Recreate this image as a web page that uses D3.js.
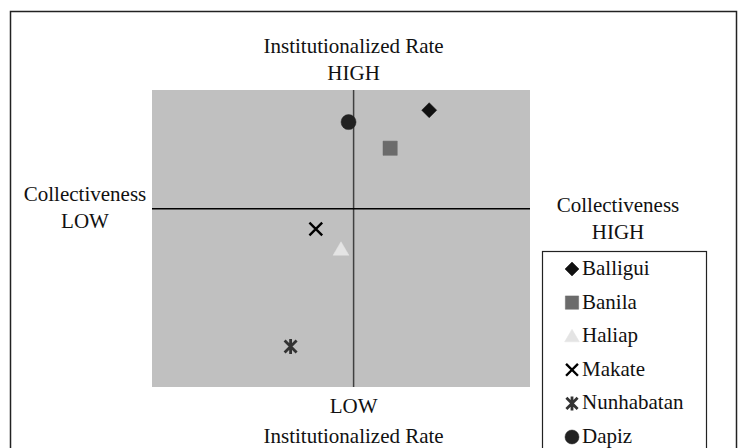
<!DOCTYPE html>
<html>
<head>
<meta charset="utf-8">
<script src="https://cdn.jsdelivr.net/npm/d3@7"></script>
<style>
  html, body { margin: 0; padding: 0; background: #fff; }
  svg { display: block; }
  text { font-family: "Liberation Serif", "Times New Roman", serif; fill: #111; }
</style>
</head>
<body>
<svg id="chart" width="738" height="448"></svg>
<script>
// ---- data ----
const villages = ["Balligui", "Banila", "Haliap", "Makate", "Nunhabatan", "Dapiz"];
const collectiveness = [0.60, 0.29, -0.10, -0.30, -0.50, -0.04];      // x
const institutionalized = [0.83, 0.51, -0.34, -0.17, -1.16, 0.73];   // y
const markerShapes = ["diamond", "square", "triangle", "x", "star", "circle"];
const markerColors = ["#111111", "#6b6b6b", "#e4e4e4", "#000000", "#333333", "#222222"];
const topLabels = ["Institutionalized Rate", "HIGH"];
const bottomLabels = ["LOW", "Institutionalized Rate"];
const leftLabels = ["Collectiveness", "LOW"];
const rightLabels = ["Collectiveness", "HIGH"];
const xDomain = [-1.6, 1.4];
const yDomain = [-1.5, 1.0];

// ---- drawing ----
const svg = d3.select("#chart");
const plot = {left: 152, right: 530, top: 90, bottom: 387};
const x = d3.scaleLinear().domain(xDomain).range([plot.left, plot.right]);
const y = d3.scaleLinear().domain(yDomain).range([plot.bottom, plot.top]);

// outer frame
svg.append("rect").attr("x", 10.5).attr("y", 11.5).attr("width", 726).attr("height", 450)
  .attr("fill", "#fff").attr("stroke", "#222").attr("stroke-width", 1.5);

// plot area
svg.append("rect").attr("x", plot.left).attr("y", plot.top)
  .attr("width", plot.right - plot.left).attr("height", plot.bottom - plot.top)
  .attr("fill", "#c0c0c0");

// quadrant lines
svg.append("line").attr("x1", x(0)).attr("x2", x(0)).attr("y1", plot.top).attr("y2", plot.bottom)
  .attr("stroke", "#404040").attr("stroke-width", 1.5);
svg.append("line").attr("x1", plot.left).attr("x2", plot.right).attr("y1", y(0)).attr("y2", y(0))
  .attr("stroke", "#000").attr("stroke-width", 1.5);

function symbolPath(shape, s) {
  const h = s / 2;
  switch (shape) {
    case "diamond": return `M0,${-h}L${h},0L0,${h}L${-h},0Z`;
    case "square": { const q = h * 0.95; return `M${-q},${-q}H${q}V${q}H${-q}Z`; }
    case "triangle": return `M0,${-h}L${h * 1.05},${h * 0.8}L${-h * 1.05},${h * 0.8}Z`;
    case "circle": return d3.arc()({innerRadius: 0, outerRadius: h, startAngle: 0, endAngle: 2 * Math.PI});
    case "x": { const q = h * 0.85; return `M${-q},${-q}L${q},${q}M${-q},${q}L${q},${-q}`; }
    case "star": { const q = h * 0.8; return `M${-q},${-q}L${q},${q}M${-q},${q}L${q},${-q}M0,${-h}V${h}`; }
  }
}
function drawMarker(g, shape, color, s) {
  const p = g.append("path").attr("d", symbolPath(shape, s));
  if (shape === "x" || shape === "star") {
    p.attr("fill", "none").attr("stroke", color).attr("stroke-width", shape === "star" ? 2.8 : 2.4);
  } else {
    p.attr("fill", color).attr("stroke", color).attr("stroke-width", 0.5).attr("stroke-linejoin", "round");
  }
}

villages.forEach((v, i) => {
  const g = svg.append("g").attr("transform", `translate(${x(collectiveness[i])},${y(institutionalized[i])})`);
  drawMarker(g, markerShapes[i], markerColors[i], 15);
});

// axis labels
const fs = 21;
function labelPair(lines, cx, y0, dy) {
  lines.forEach((t, i) => svg.append("text").attr("x", cx).attr("y", y0 + i * dy)
    .attr("text-anchor", "middle").attr("font-size", fs).text(t));
}
labelPair(topLabels, x(0), 53, 27);
labelPair(bottomLabels, x(0), 413, 30);
labelPair(leftLabels, 85, 201, 27);
labelPair(rightLabels, 618, 212, 27);

// legend
svg.append("rect").attr("x", 542.5).attr("y", 251.5).attr("width", 164).attr("height", 220)
  .attr("fill", "#fff").attr("stroke", "#222").attr("stroke-width", 1.2);
villages.forEach((v, i) => {
  const by = 275 + i * 33.6;
  const g = svg.append("g").attr("transform", `translate(572,${by - 6})`);
  drawMarker(g, markerShapes[i], markerColors[i], 14);
  svg.append("text").attr("x", 582).attr("y", by).attr("font-size", fs).text(v);
});
</script>
</body>
</html>
